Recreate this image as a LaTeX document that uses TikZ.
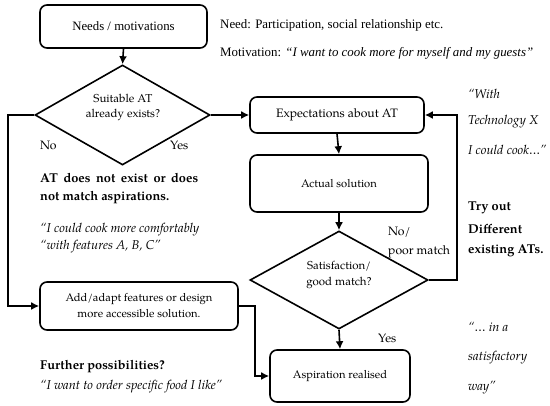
\documentclass[tikz,border=0pt]{standalone}
\usepackage{fontspec}
\setmainfont{Liberation Serif}
\newfontfamily\pal{TeX Gyre Pagella}
\usetikzlibrary{shapes.geometric,arrows.meta}
\begin{document}
\begin{tikzpicture}[x=1pt,y=-1pt,
  box/.style={draw,line width=1.6pt,rounded corners=7pt,inner sep=0pt,align=center,font=\pal\fontsize{11.2}{13}\selectfont},
  dia/.style={draw,line width=1.6pt,diamond,inner sep=0pt},
  dtext/.style={inner sep=0pt,align=center,font=\pal\fontsize{11.5}{15.5}\selectfont},
  arr/.style={line width=1.6pt,-{Latex[length=8pt,width=8pt]}},
  lbl/.style={inner sep=0pt,anchor=west,font=\fontsize{12.9}{15}\selectfont},
  plbl/.style={inner sep=0pt,anchor=west,font=\pal\fontsize{12.2}{13}\selectfont},
  bl/.style={inner sep=0pt,anchor=west,font=\pal\bfseries\fontsize{12.8}{18}\selectfont},
  it/.style={inner sep=0pt,anchor=west,font=\pal\itshape\fontsize{12.8}{15}\selectfont}]
\useasboundingbox (0,0) rectangle (550,406);
\fill[white] (0,0) rectangle (550,406);
% boxes
\node[box,minimum width=167pt,minimum height=43pt,font=\fontsize{12.8}{15}\selectfont] (needs) at (123.5,26.5) {Needs / motivations};
\node[dia,minimum width=175pt,minimum height=100pt] (d1) at (122.5,115) {};
\node[dtext] (d1t) at (123,107.5) {Suitable AT\\already exists?};
\node[box,minimum width=174pt,minimum height=36pt,font=\pal\fontsize{12.2}{13}\selectfont] (exp) at (337,115) {Expectations about AT};
\node[box,minimum width=178pt,minimum height=57pt] (act) at (339,183.5) {Actual solution};
\node[dia,minimum width=178pt,minimum height=98pt] (d2) at (339,280) {};
\node[dtext] (d2t) at (339,275) {Satisfaction/\\good match?};
\node[box,minimum width=198pt,minimum height=48pt,font=\pal\fontsize{11.2}{16}\selectfont] (add) at (139,306) {Add/adapt features or design\\more accessible solution.};
\node[box,minimum width=140pt,minimum height=52pt] (asp) at (340,376) {Aspiration realised};
% corner coordinates
\coordinate (c1) at (8,115);
\coordinate (c2) at (457,280);
\coordinate (c3) at (255,306);
% connectors
\draw[arr] (needs.south) -- (d1.north);
\draw[arr] (d1.east) -- (exp.west);
\draw[arr] (d1.west) -- (c1) |- (add.west);
\draw[arr] (exp.south) -- (act.north);
\draw[arr] (act.south) -- (d2.north);
\draw[arr] (d2.south) -- (asp.north);
\draw[arr] (d2.east) -- (c2) |- (exp.east);
\draw[arr] (add.east) -- (c3) |- (asp.west);
% labels
\node[plbl] (no1) at (40,145) {No};
\node[plbl] (yes1) at (170,145) {Yes};
\node[plbl] (no2) at (388,232) {No/};
\node[plbl] (poor) at (388,252) {poor match};
\node[plbl] (yes2) at (378,338) {Yes};
% side texts
\node[lbl] (need) at (220,25) {Need: Participation, social relationship etc.};
\node[lbl] (motiv) at (220,53) {Motivation: \textit{“I want to cook more for myself and my guests”}};
\node[bl,anchor=north west,text width=158pt,align=justify] (atno) at (40,173) {AT does not exist or does not match aspirations.};
\node[it] (q1) at (40,230) {“I could cook more comfortably};
\node[it] (q2) at (40,247) {“with features A, B, C”};
\node[bl] (fur) at (40,367) {Further possibilities?};
\node[it] (q3) at (40,387) {“I want to order specific food I like”};
\node[it] (w1) at (468,94) {“With};
\node[it] (w2) at (468,122) {Technology X};
\node[it] (w3) at (468,150) {I could cook…”};
\node[bl] (t1) at (468,208) {Try out};
\node[bl] (t2) at (468,229) {Different};
\node[bl] (t3) at (468,251) {existing ATs.};
\node[it] (s1) at (468,327) {“… in a};
\node[it] (s2) at (468,358) {satisfactory};
\node[it] (s3) at (468,388) {way”};
\end{tikzpicture}
\end{document}
